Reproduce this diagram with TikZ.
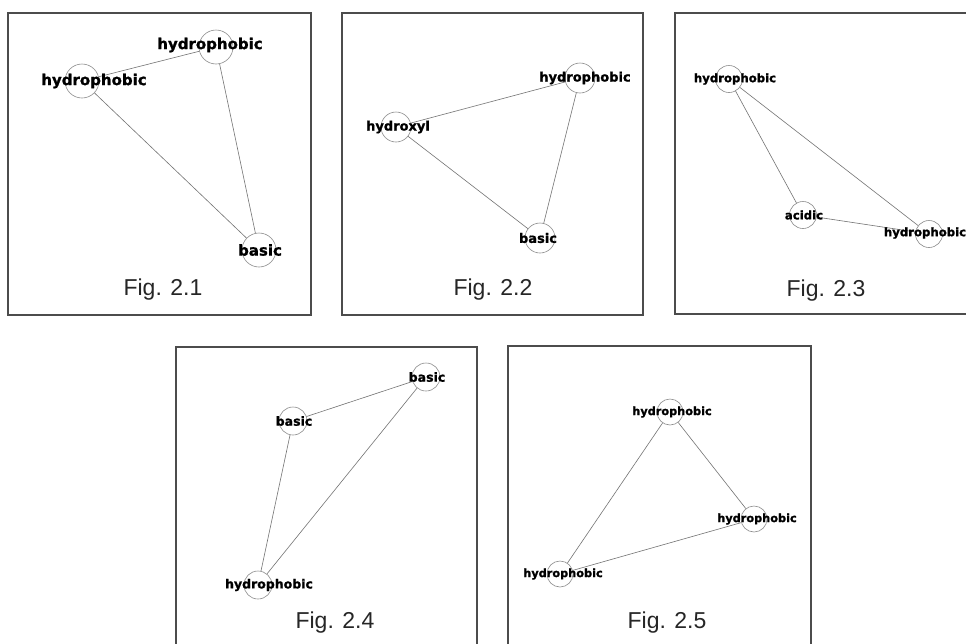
\documentclass[tikz,border=0pt]{standalone}
\usepackage{fontspec}
\setmainfont{Liberation Sans}
\newfontfamily\labfont{DejaVu Sans}[BoldFeatures = {FakeBold = 1.2}]
\begin{document}
\begin{tikzpicture}[x = 1pt, y = -1pt,
  frame/.style = {draw = black!70, line width = 1.3pt},
  vert/.style = {circle, draw = black!45, line width = .6pt, inner sep = 0pt,
  minimum size = #1},
  lab/.style = {inner sep = 0pt, font = \labfont\bfseries\fontsize{#1}{#1}\selectfont},
  link/.style = {draw = black!55, line width = .6pt},
  caption/.style = {font = \fontsize{23}{23}\selectfont, text = black!85}]
  \clip (0, 0) rectangle (966, 643);
  \fill[white] (0, 0) rectangle (966, 643);
  % frames
  \draw[frame] (8, 13) rectangle (311, 315);
  \draw[frame] (342, 13) rectangle (643, 315);
  \draw[frame] (675, 13) rectangle (980, 314);
  \draw[frame] (176, 347) rectangle (477, 660);
  \draw[frame] (508, 346) rectangle (811, 660);
  % Fig. 2.1
  \node[vert = 34pt] (p1a) at (216, 47) {};
  \node[vert = 34pt] (p1b) at (82, 81) {};
  \node[vert = 34pt] (p1c) at (259, 250) {};
  \draw[link] (p1a) -- (p1b);
  \draw[link] (p1b) -- (p1c);
  \draw[link] (p1a) -- (p1c);
  \node[lab = 15, xshift = -6pt, yshift = 2pt] at (p1a) {hydrophobic};
  \node[lab = 15, xshift = 12pt] at (p1b) {hydrophobic};
  \node[lab = 15, xshift = 1pt] at (p1c) {basic};
  \node[caption] (c1) at (163, 290) {Fig. 2.1};
  % Fig. 2.2
  \node[vert = 30pt] (p2a) at (580, 78) {};
  \node[vert = 30pt] (p2b) at (396, 127) {};
  \node[vert = 30pt] (p2c) at (540, 238) {};
  \draw[link] (p2a) -- (p2b);
  \draw[link] (p2b) -- (p2c);
  \draw[link] (p2a) -- (p2c);
  \node[lab = 13, xshift = 5pt] at (p2a) {hydrophobic};
  \node[lab = 13, xshift = 2pt] at (p2b) {hydroxyl};
  \node[lab = 13, xshift = -2pt] at (p2c) {basic};
  \node[caption] (c2) at (493, 290) {Fig. 2.2};
  % Fig. 2.3
  \node[vert = 27pt] (p3a) at (729, 79) {};
  \node[vert = 27pt] (p3b) at (803, 215) {};
  \node[vert = 27pt] (p3c) at (929, 234) {};
  \draw[link] (p3a) -- (p3b);
  \draw[link] (p3b) -- (p3c);
  \draw[link] (p3a) -- (p3c);
  \node[lab = 11.7, xshift = 6pt] at (p3a) {hydrophobic};
  \node[lab = 11.7, xshift = 1pt] at (p3b) {acidic};
  \node[lab = 11.7, xshift = -4pt, yshift = 1pt] at (p3c) {hydrophobic};
  \node[caption] (c3) at (826, 291) {Fig. 2.3};
  % Fig. 2.4
  \node[vert = 28pt] (p4a) at (426, 377) {};
  \node[vert = 28pt] (p4b) at (293, 421) {};
  \node[vert = 28pt] (p4c) at (258, 585) {};
  \draw[link] (p4a) -- (p4b);
  \draw[link] (p4b) -- (p4c);
  \draw[link] (p4a) -- (p4c);
  \node[lab = 12.5, xshift = 1pt] at (p4a) {basic};
  \node[lab = 12.5, xshift = 1pt] at (p4b) {basic};
  \node[lab = 12.5, xshift = 11pt] at (p4c) {hydrophobic};
  \node[caption] (c4) at (335, 623) {Fig. 2.4};
  % Fig. 2.5
  \node[vert = 26pt] (p5a) at (670, 412) {};
  \node[vert = 26pt] (p5b) at (754, 519) {};
  \node[vert = 26pt] (p5c) at (560, 574) {};
  \draw[link] (p5a) -- (p5b);
  \draw[link] (p5b) -- (p5c);
  \draw[link] (p5a) -- (p5c);
  \node[lab = 11.3, xshift = 2pt] at (p5a) {hydrophobic};
  \node[lab = 11.3, xshift = 3pt] at (p5b) {hydrophobic};
  \node[lab = 11.3, xshift = 3pt] at (p5c) {hydrophobic};
  \node[caption] (c5) at (667, 623) {Fig. 2.5};
\end{tikzpicture}
\end{document}
